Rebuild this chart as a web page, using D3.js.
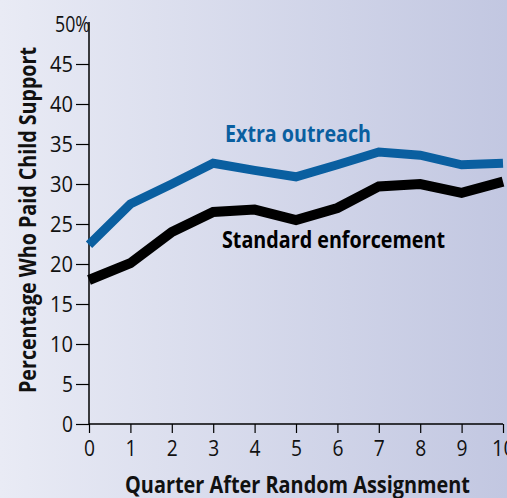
<!DOCTYPE html>
<html>
<head>
<meta charset="utf-8">
<script src="https://cdn.jsdelivr.net/npm/d3@7"></script>
<style>
  body { margin: 0; }
  text { font-family: "Open Sans", sans-serif; }
</style>
</head>
<body>
<div id="chart"></div>
<script>
var W = 507, H = 498;
var margin = { top: 24, right: 4, bottom: 74, left: 89 };

// data
var quarters = [0, 1, 2, 3, 4, 5, 6, 7, 8, 9, 10];
var extraOutreach = [22.4, 27.5, 30.0, 32.6, 31.7, 30.9, 32.4, 34.0, 33.6, 32.4, 32.6];
var standardEnforcement = [18.0, 20.1, 24.0, 26.5, 26.8, 25.5, 27.0, 29.7, 30.0, 28.9, 30.3];
var yTicks = [0, 5, 10, 15, 20, 25, 30, 35, 40, 45, 50];

var svg = d3.select("#chart").append("svg")
  .attr("width", W).attr("height", H);

// background gradient
var grad = svg.append("defs").append("linearGradient")
  .attr("id", "bg").attr("x1", "0%").attr("x2", "100%");
grad.append("stop").attr("offset", "0%").attr("stop-color", "#e9ebf5");
grad.append("stop").attr("offset", "100%").attr("stop-color", "#c2c7e1");
svg.append("rect").attr("width", W).attr("height", H).attr("fill", "url(#bg)");

var x = d3.scaleLinear().domain([0, 10]).range([margin.left, 503]);
var y = d3.scaleLinear().domain([0, 50]).range([424, 24]);

// y axis
var yAxis = svg.append("g")
  .attr("transform", `translate(${margin.left},0)`)
  .call(d3.axisLeft(y).tickValues(yTicks).tickSize(13).tickPadding(4)
    .tickFormat(d => d === 50 ? "50%" : d));
yAxis.select(".domain").attr("d", `M0,${y(50) - 2}V${y(0)}`).attr("stroke", "#000").attr("stroke-width", 1.5);
yAxis.selectAll(".tick line").attr("stroke", "#000").attr("stroke-width", 1.2);
yAxis.selectAll(".tick").filter(d => d === 50).select("line").remove();
yAxis.selectAll(".tick text")
  .style("font-size", "21px").attr("fill", "#111")
  .attr("x", d => d === 50 ? 1 : -16)
  .attr("dy", "0.36em")
  .attr("textLength", d => d === 50 ? 35 : (d < 10 ? 11 : 23))
  .attr("lengthAdjust", "spacingAndGlyphs");

// x axis
var xAxis = svg.append("g")
  .attr("transform", `translate(0,${y(0)})`)
  .call(d3.axisBottom(x).tickValues(quarters).tickSize(9).tickPadding(8));
xAxis.select(".domain").attr("d", `M${margin.left},0H${x(10)}`).attr("stroke", "#000").attr("stroke-width", 1.5);
xAxis.selectAll(".tick line").attr("stroke", "#000").attr("stroke-width", 1.2);
xAxis.selectAll(".tick text")
  .style("font-size", "21px").attr("fill", "#111")
  .attr("y", 17)
  .attr("textLength", d => d === 10 ? 23 : 11)
  .attr("lengthAdjust", "spacingAndGlyphs");

// lines
var line = d3.line().x((d, i) => x(quarters[i])).y(d => y(d));

svg.append("path").datum(standardEnforcement)
  .attr("d", line).attr("fill", "none")
  .attr("stroke", "#000").attr("stroke-width", 10)
  .attr("stroke-linejoin", "miter").attr("stroke-linecap", "butt");

svg.append("path").datum(extraOutreach)
  .attr("d", line).attr("fill", "none")
  .attr("stroke", "#0a5fa0").attr("stroke-width", 9)
  .attr("stroke-linejoin", "miter").attr("stroke-linecap", "butt");

// series labels
svg.append("text").attr("x", 225).attr("y", 142)
  .style("font-size", "23px").attr("font-weight", "bold").attr("fill", "#0a5fa0")
  .attr("textLength", 146).attr("lengthAdjust", "spacingAndGlyphs")
  .text("Extra outreach");
svg.append("text").attr("x", 222).attr("y", 248)
  .style("font-size", "23px").attr("font-weight", "bold").attr("fill", "#000")
  .attr("textLength", 223).attr("lengthAdjust", "spacingAndGlyphs")
  .text("Standard enforcement");

// axis titles
svg.append("text")
  .attr("transform", "translate(36,220) rotate(-90)")
  .attr("text-anchor", "middle")
  .style("font-size", "24px").attr("font-weight", "bold").attr("fill", "#111")
  .attr("textLength", 346).attr("lengthAdjust", "spacingAndGlyphs")
  .text("Percentage Who Paid Child Support");
svg.append("text")
  .attr("x", 297.5).attr("y", 493)
  .attr("text-anchor", "middle")
  .style("font-size", "23px").attr("font-weight", "bold").attr("fill", "#111")
  .attr("textLength", 345).attr("lengthAdjust", "spacingAndGlyphs")
  .text("Quarter After Random Assignment");
</script>
</body>
</html>
